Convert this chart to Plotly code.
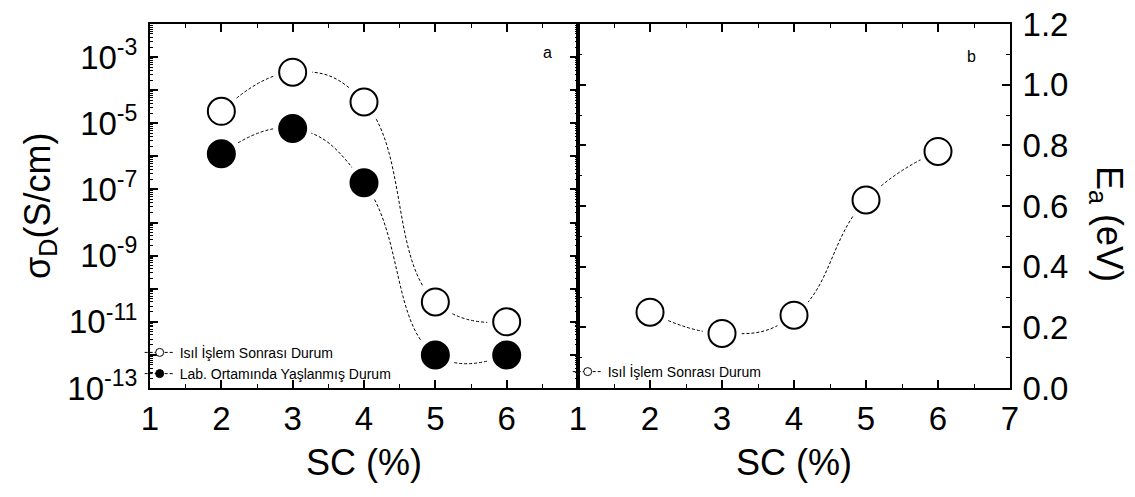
import plotly.graph_objects as go

# ---- data ----
sc = [2, 3, 4, 5, 6]
sigma_annealed = [2.3e-5, 3.5e-4, 4.4e-5, 4.0e-11, 1.0e-11]
sigma_aged = [1.2e-6, 7.0e-6, 1.6e-7, 1.0e-12, 1.0e-12]
ea = [0.25, 0.18, 0.24, 0.62, 0.78]

name_annealed = "Isıl İşlem Sonrası Durum"
name_aged = "Lab. Ortamında Yaşlanmış Durum"

log_exponents = list(range(-13, -1))
log_tickvals = [10.0 ** e for e in log_exponents]
log_ticktext = [("10<sup>%d</sup>" % e) if e % 2 != 0 else "" for e in log_exponents]
ea_tickvals = [0.0, 0.2, 0.4, 0.6, 0.8, 1.0, 1.2]
ea_ticktext = ["0.0", "0.2", "0.4", "0.6", "0.8", "1.0", "1.2"]
x_left_ticks = [1, 2, 3, 4, 5, 6]
x_right_ticks = [1, 2, 3, 4, 5, 6, 7]

FONT = "Liberation Sans, Arial, sans-serif"
MS = 27
HALO = 39
DASH = "3px,2px"

fig = go.Figure()

def add_series(x, y, xa, ya):
    fig.add_trace(go.Scatter(x=x, y=y, xaxis=xa, yaxis=ya, mode="lines",
                             line=dict(color="black", width=1, dash=DASH, shape="spline", smoothing=1.3),
                             showlegend=False, hoverinfo="skip"))

def add_markers(x, y, xa, ya, filled):
    fig.add_trace(go.Scatter(x=x, y=y, xaxis=xa, yaxis=ya, mode="markers",
                             marker=dict(size=MS, color="black" if filled else "white",
                                         line=dict(color="black", width=2)),
                             showlegend=False))

def add_halo(x, y, xa, ya):
    fig.add_trace(go.Scatter(x=x, y=y, xaxis=xa, yaxis=ya, mode="markers",
                             marker=dict(size=HALO, color="white", line=dict(width=0)),
                             showlegend=False, hoverinfo="skip"))

# left panel
add_series(sc, sigma_annealed, "x", "y")
add_series(sc, sigma_aged, "x", "y")
add_halo(sc, sigma_annealed, "x", "y")
add_halo(sc, sigma_aged, "x", "y")
add_markers(sc, sigma_annealed, "x", "y", False)
add_markers(sc, sigma_aged, "x", "y", True)

# right panel
add_series(sc, ea, "x2", "y2")
add_halo(sc, ea, "x2", "y2")
add_markers(sc, ea, "x2", "y2", False)

# legend entries
def legend_entry(name, filled, xa, ya, legend):
    fig.add_trace(go.Scatter(x=[None], y=[None], xaxis=xa, yaxis=ya, mode="lines+markers",
                             name=name, legend=legend,
                             line=dict(color="black", width=1, dash=DASH),
                             marker=dict(size=8, color="black" if filled else "white",
                                         line=dict(color="black", width=1))))

legend_entry(name_annealed, False, "x", "y", "legend")
legend_entry(name_aged, True, "x", "y", "legend")
legend_entry(name_annealed, False, "x2", "y2", "legend2")

split = 0.4977
axis_common = dict(showline=True, linecolor="black", linewidth=2, mirror="ticks",
                   ticks="inside", ticklen=8, tickwidth=1.5, tickcolor="black",
                   showgrid=False, zeroline=False, automargin=False,
                   tickfont=dict(family=FONT, size=33, color="black"))

fig.update_layout(
    width=1135, height=497,
    margin=dict(l=150, r=125, t=24, b=109, autoexpand=False),
    paper_bgcolor="white", plot_bgcolor="white",
    font=dict(family=FONT, color="black"),
    xaxis=dict(domain=[0, split], range=[1, 7], tickmode="array", tickvals=x_left_ticks,
               minor=dict(ticks="inside", ticklen=4, tickwidth=1, tickcolor="black", dtick=0.5, tick0=1),
               anchor="y", **axis_common),
    yaxis=dict(type="log", range=[-13, -2], tickmode="array", tickvals=log_tickvals,
               ticktext=log_ticktext, anchor="x", ticklabelstandoff=4,
               minor=dict(ticks="inside", ticklen=3, tickwidth=1, tickcolor="black", dtick="D1"),
               **axis_common),
    xaxis2=dict(domain=[split, 1], range=[1, 7], tickmode="array", tickvals=x_right_ticks,
                minor=dict(ticks="inside", ticklen=4, tickwidth=1, tickcolor="black", dtick=0.5, tick0=1),
                anchor="y2", **axis_common),
    yaxis2=dict(range=[0, 1.2], side="right", tickmode="array", tickvals=ea_tickvals,
                ticktext=ea_ticktext, anchor="x2", ticklabelstandoff=4,
                minor=dict(ticks="inside", ticklen=4, tickwidth=1, tickcolor="black", dtick=0.1, tick0=0),
                **axis_common),
    legend=dict(x=-0.012, y=-0.005, xanchor="left", yanchor="bottom", bgcolor="rgba(0,0,0,0)",
                font=dict(family=FONT, size=14, color="black"), tracegroupgap=0,
                itemwidth=30),
    legend2=dict(x=split - 0.012, y=0.0, xanchor="left", yanchor="bottom", bgcolor="rgba(0,0,0,0)",
                 font=dict(family=FONT, size=14, color="black"), itemwidth=30),
    showlegend=True,
)

ann_font = dict(family=FONT, size=36, color="black")
fig.add_annotation(text="SC (%)", xref="paper", yref="paper", x=split / 2, y=-0.205,
                   showarrow=False, font=ann_font, xanchor="center", yanchor="middle")
fig.add_annotation(text="SC (%)", xref="paper", yref="paper", x=(split + 1) / 2, y=-0.205,
                   showarrow=False, font=ann_font, xanchor="center", yanchor="middle")
fig.add_annotation(text="σ<sub>D</sub>(S/cm)", xref="paper", yref="paper", x=-0.128, y=0.5,
                   textangle=-90, showarrow=False, font=ann_font, xanchor="center", yanchor="middle")
fig.add_annotation(text="E<sub>a</sub> (eV)", xref="paper", yref="paper", x=1.112, y=0.45,
                   textangle=90, showarrow=False, font=ann_font, xanchor="center", yanchor="middle")
fig.add_annotation(text="a", xref="paper", yref="paper", x=(547 - 150) / 860, y=(388 - 42) / 364,
                   showarrow=False, font=dict(family=FONT, size=16, color="black"))
fig.add_annotation(text="b", xref="paper", yref="paper", x=(978 - 150) / 860, y=(388 - 46) / 364,
                   showarrow=False, font=dict(family=FONT, size=16, color="black"))

fig.write_html("out.html", config={"displayModeBar": False},
               post_script="document.body.style.margin='0';document.body.style.overflow='hidden';")
